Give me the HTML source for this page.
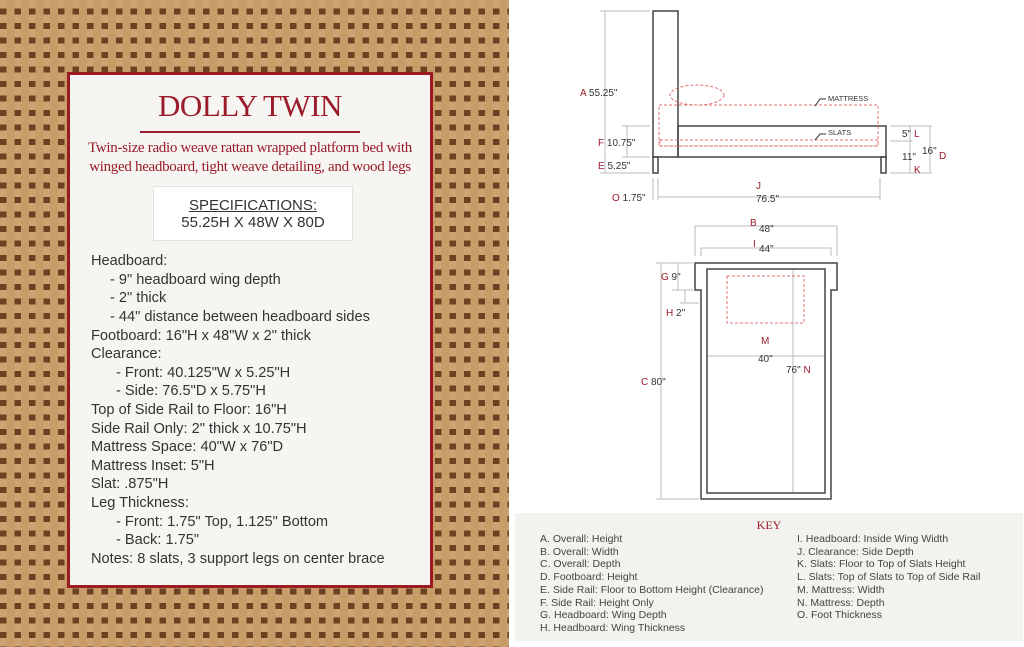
<!DOCTYPE html>
<html><head><meta charset="utf-8"><style>
*{margin:0;padding:0;box-sizing:border-box}
body{width:1024px;height:647px;position:relative;overflow:hidden;background:#fff;font-family:"Liberation Sans",sans-serif}
#rattan{position:absolute;left:0;top:0;width:509px;height:647px;
background:linear-gradient(90deg,transparent 0 6.5px,#c89c68 6.5px 14.5px),linear-gradient(0deg,transparent 0 6px,#cda372 6px 14.5px),#6a4222;background-size:14.5px 14.5px}
#card{position:absolute;left:67px;top:72px;width:366px;height:516px;background:#f6f5f1;border:3px solid #9a1b22}
.t{position:absolute;white-space:nowrap}
.ser{font-family:"Liberation Serif",serif;color:#9a1b2b}
.b{font-size:14.6px;color:#333;position:absolute;white-space:nowrap}
#key{position:absolute;left:515px;top:513px;width:508px;height:128px;background:#f3f2ee}
.k{position:absolute;font-size:10.5px;color:#444;white-space:nowrap}
</style></head><body>
<div id="rattan"></div>
<div id="card"></div>
<div class="t ser" style="left:0;width:500px;text-align:center;top:88px;font-size:31px;letter-spacing:-0.5px">DOLLY TWIN</div>
<div style="position:absolute;left:140px;top:131px;width:220px;height:2px;background:#9a1b2b"></div>
<div class="t ser" style="left:0;width:500px;text-align:center;top:139px;font-size:15px;letter-spacing:-0.3px;line-height:19px">Twin-size radio weave rattan wrapped platform bed with<br>winged headboard, tight weave detailing, and wood legs</div>
<div style="position:absolute;left:153px;top:186px;width:200px;height:55px;background:#fff;border:1px solid #e4e2dc"></div>
<div class="t" style="left:153px;width:200px;text-align:center;top:197px;font-size:15px;color:#333;text-decoration:underline">SPECIFICATIONS:</div>
<div class="t" style="left:153px;width:200px;text-align:center;top:214px;font-size:15px;color:#333">55.25H X 48W X 80D</div>
<div class="b" style="left:91px;top:253px">Headboard:</div>
<div class="b" style="left:110px;top:272px">- 9" headboard wing depth</div>
<div class="b" style="left:110px;top:290px">- 2" thick</div>
<div class="b" style="left:110px;top:309px">- 44" distance between headboard sides</div>
<div class="b" style="left:91px;top:328px">Footboard: 16"H x 48"W x 2" thick</div>
<div class="b" style="left:91px;top:346px">Clearance:</div>
<div class="b" style="left:116px;top:365px">- Front: 40.125"W x 5.25"H</div>
<div class="b" style="left:116px;top:383px">- Side: 76.5"D x 5.75"H</div>
<div class="b" style="left:91px;top:402px">Top of Side Rail to Floor: 16"H</div>
<div class="b" style="left:91px;top:421px">Side Rail Only: 2" thick x 10.75"H</div>
<div class="b" style="left:91px;top:439px">Mattress Space: 40"W x 76"D</div>
<div class="b" style="left:91px;top:458px">Mattress Inset: 5"H</div>
<div class="b" style="left:91px;top:476px">Slat: .875"H</div>
<div class="b" style="left:91px;top:495px">Leg Thickness:</div>
<div class="b" style="left:116px;top:514px">- Front: 1.75" Top, 1.125" Bottom</div>
<div class="b" style="left:116px;top:532px">- Back: 1.75"</div>
<div class="b" style="left:91px;top:551px">Notes: 8 slats, 3 support legs on center brace</div>

<svg style="position:absolute;left:0;top:0" width="1024" height="647" font-family="Liberation Sans,sans-serif">
<g fill="none" stroke="#444" stroke-width="1.5">
<rect x="653" y="11" width="25" height="146"/>
<rect x="678" y="126" width="208" height="31"/>
<rect x="653" y="157" width="5" height="16"/>
<rect x="881" y="157" width="5" height="16"/>
</g>
<g fill="none" stroke="#e07070" stroke-width="1" stroke-dasharray="3,2">
<rect x="659" y="105" width="219" height="41"/>
<ellipse cx="697" cy="95" rx="27" ry="10"/>
<rect x="660" y="140" width="218" height="6"/>
</g>
<g stroke="#bbb" stroke-width="1" fill="none">
<path d="M605 11V173M600 11H650M600 173H650M627 126V157M622 126H650M622 157H650M653 178V200M658 178V200M880 178V200M658 197H880M910 126V173M930 126V173M890 126H932M890 141H912M890 173H932"/>
<path d="M695 256V226H837V256M701 256V248H831V256M661 263V499M656 263H693M656 499H699M678 263V290M672 263H693M672 290H693M685 290V303M680 303H699"/>
<path d="M707 356H825M793 269V493"/>
</g>
<path d="M815 106L820 99H826M815 140L820 134H826" stroke="#333" fill="none"/>
<g font-size="10" fill="#333">
<text x="828" y="101" font-size="7.5">MATTRESS</text><text x="828" y="135" font-size="7.5">SLATS</text>
<text x="580" y="96"><tspan fill="#9a1b2b">A</tspan> 55.25"</text>
<text x="598" y="146"><tspan fill="#9a1b2b">F</tspan> 10.75"</text>
<text x="598" y="169"><tspan fill="#9a1b2b">E</tspan>  5.25"</text>
<text x="612" y="201"><tspan fill="#9a1b2b">O</tspan> 1.75"</text>
<text x="756" y="189" fill="#9a1b2b">J</text><text x="756" y="202">76.5"</text>
<text x="902" y="137">5"</text><text x="914" y="137" fill="#9a1b2b">L</text>
<text x="902" y="160">11"</text><text x="914" y="173" fill="#9a1b2b">K</text>
<text x="922" y="154">16"</text><text x="939" y="159" fill="#9a1b2b">D</text>
<text x="750" y="226" fill="#9a1b2b">B</text><text x="759" y="232">48"</text>
<text x="753" y="247" fill="#9a1b2b">I</text><text x="759" y="252">44"</text>
<text x="661" y="280"><tspan fill="#9a1b2b">G</tspan> 9"</text>
<text x="666" y="316"><tspan fill="#9a1b2b">H</tspan> 2"</text>
<text x="641" y="385"><tspan fill="#9a1b2b">C</tspan> 80"</text>
<text x="761" y="344" fill="#9a1b2b">M</text><text x="758" y="362">40"</text>
<text x="786" y="373">76" <tspan fill="#9a1b2b">N</tspan></text>
</g>
<g fill="none" stroke="#444" stroke-width="1.5">
<path d="M695 263H837V290H831V499H701V290H695Z"/>
<rect x="707" y="269" width="118" height="224"/>
</g>
<rect x="727" y="276" width="77" height="47" fill="none" stroke="#e07070" stroke-dasharray="3,2"/>
</svg>

<div id="key"></div>
<div class="t ser" style="left:515px;width:508px;text-align:center;top:518px;font-size:12px">KEY</div>
<div class="k" style="left:540px;top:533px;line-height:12.7px">A. Overall: Height<br>B. Overall: Width<br>C. Overall: Depth<br>D. Footboard: Height<br>E. Side Rail: Floor to Bottom Height (Clearance)<br>F. Side Rail: Height Only<br>G. Headboard: Wing Depth<br>H. Headboard: Wing Thickness</div>
<div class="k" style="left:797px;top:533px;line-height:12.7px">I. Headboard: Inside Wing Width<br>J. Clearance: Side Depth<br>K. Slats: Floor to Top of Slats Height<br>L. Slats: Top of Slats to Top of Side Rail<br>M. Mattress: Width<br>N. Mattress: Depth<br>O. Foot Thickness</div>
</body></html>
